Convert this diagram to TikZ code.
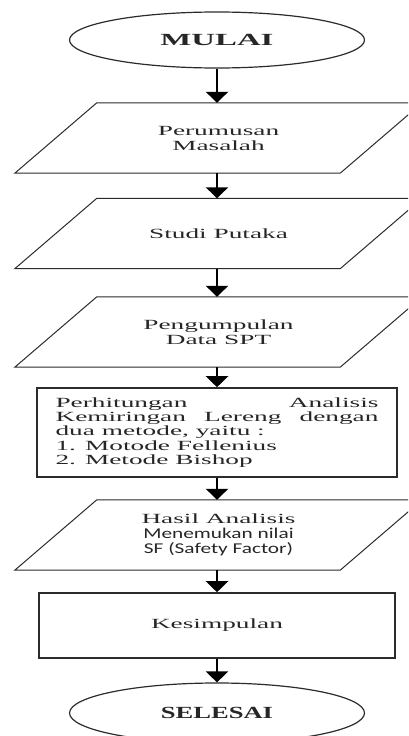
\documentclass[tikz,border=0pt]{standalone}
\usepackage{fontspec}
\setmainfont{Liberation Serif}
\newfontfamily\calfont{Carlito}
\usepackage{graphicx}
\usepackage{xcolor}
\definecolor{lineg}{HTML}{2B2B2B}
\definecolor{textg}{HTML}{262626}
\usepackage{tikz}
\usetikzlibrary{arrows.meta, positioning, shapes.geometric}
\newcommand{\wide}[2][1.95]{\scalebox{#1}[1]{#2}}

\begin{document}
\begin{tikzpicture}[x=1pt, y=-1pt,
    terminal/.style={ellipse, draw=lineg, line width=1.2pt, minimum width=295pt, minimum height=56pt, inner sep=0pt, text=textg, font=\fontsize{17}{17}\selectfont\bfseries},
    iobox/.style={rectangle, minimum width=325pt, minimum height=70pt, inner sep=0pt, align=center, text=textg, font=\fontsize{14}{15}\selectfont},
    ioline/.style={draw=lineg, line width=1pt},
    procbox/.style={rectangle, draw=lineg, line width=1.6pt, inner sep=0pt, text=textg, font=\fontsize{14}{14.3}\selectfont},
    flow/.style={-{Triangle[width=22pt,length=11pt]}, line width=2.6pt, black}]
    \useasboundingbox (0,0) rectangle (408,736);
    \clip (0,0) rectangle (408,736);
    % Start / end
    \node[terminal] (mulai) at (217,40) {\wide[1.93]{MULAI}};
    \node[terminal, minimum height=60pt] (selesai) at (217,713) {\wide[1.56]{SELESAI}};
    % Input / output boxes
    \node[iobox] (rumus) at (218.5,138) {\wide{Perumusan}\\\wide{Masalah}};
    \node[iobox] (studi) at (218.5,233.5) {\wide{Studi Putaka}};
    \node[iobox] (data) at (218.5,332) {\wide{Pengumpulan}\\\wide{Data SPT}};
    \node[iobox] (hasil) at (218.5,535) {\wide{Hasil Analisis}\\{\calfont\fontsize{15}{15}\selectfont\wide[1.42]{Menemukan nilai}}\\{\calfont\fontsize{15}{15}\selectfont\wide[1.42]{SF (Safety Factor)}}};
    \foreach \n in {rumus,studi,data,hasil}
        \draw[ioline] ([xshift=41pt]\n.north west) -- ([xshift=41pt]\n.north east)
            -- ([xshift=-41pt]\n.south east) -- ([xshift=-41pt]\n.south west) -- cycle;
    % Process boxes
    \node[procbox, minimum width=360pt, minimum height=89pt] (hitung) at (217,432.5) {\wide{\parbox{165.6pt}{Perhitungan\hfill Analisis\\ Kemiringan\hfill Lereng\hfill dengan\\ dua metode, yaitu :\\ 1. Motode Fellenius\\ 2. Metode Bishop}}};
    \node[procbox, minimum width=356pt, minimum height=65pt] (simpul) at (217,625.5) {\wide{Kesimpulan}};
    % Arrows
    \draw[flow] (mulai.south) -- (mulai.south |- rumus.north);
    \draw[flow] (mulai.south |- rumus.south) -- (mulai.south |- studi.north);
    \draw[flow] (mulai.south |- studi.south) -- (mulai.south |- data.north);
    \draw[flow] (mulai.south |- data.south) -- (hitung.north);
    \draw[flow] (hitung.south) -- (mulai.south |- hasil.north);
    \draw[flow] (mulai.south |- hasil.south) -- (simpul.north);
    \draw[flow] (simpul.south) -- (selesai.north);
\end{tikzpicture}
\end{document}
